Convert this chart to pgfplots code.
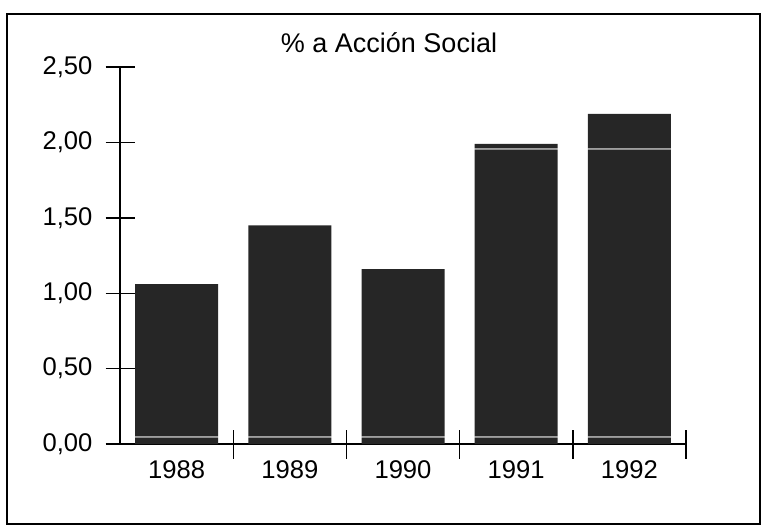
\documentclass[border=0pt]{standalone}
\usepackage{pgfplots}
\pgfplotsset{compat=1.18}
\usepackage{fontspec}
\setmainfont{Liberation Sans}
\definecolor{bardark}{gray}{0.15}
\definecolor{barlight}{gray}{0.62}
\begin{document}
\begin{tikzpicture}
\path (0,0) rectangle (382pt,-265pt);
\draw[line width=1.2pt] (3.5pt,-7pt) rectangle (380pt,-262pt);
\node[anchor=base, inner sep=0pt, font=\fontsize{13.5}{15}\selectfont] at (194.5pt,-26pt) {\% a Acción Social};
\begin{axis}[
  at={(60pt,-222pt)}, anchor=south west,
  scale only axis, width=283pt, height=188.5pt,
  xmin=-0.5, xmax=4.5, ymin=0, ymax=2.5,
  axis lines*=left,
  axis line style={line width=0.7pt, black},
  every tick/.style={line width=0.7pt, black},
  tick align=center, major tick length=14.5pt,
  ytick={0,0.5,1,1.5,2,2.5},
  yticklabel style={anchor=east, xshift=-3pt},
  /pgf/number format/.cd, fixed, fixed zerofill, precision=2, use comma, assume math mode=true,
  /pgfplots/.cd,
  xtick={0.5,1.5,2.5,3.5,4.5},
  xticklabels={},
  extra x ticks={0,1,2,3,4},
  extra x tick labels={1988,1989,1990,1991,1992},
  extra x tick style={major tick length=0pt, xticklabel style={anchor=north, yshift=-5pt}},
  tick label style={font=\fontsize{12.8}{14}\selectfont},
  ybar stacked, bar width=41.5pt,
  every axis plot/.append style={draw=none},
]
\addplot[fill=bardark] coordinates {(0,0.04) (1,0.04) (2,0.04) (3,0.04) (4,0.04)};
\addplot[fill=barlight] coordinates {(0,0.012) (1,0.012) (2,0.012) (3,0.012) (4,0.012)};
\addplot[fill=bardark] coordinates {(0,1.008) (1,1.398) (2,1.108) (3,1.898) (4,1.898)};
\addplot[fill=barlight] coordinates {(0,0) (1,0) (2,0) (3,0.012) (4,0.012)};
\addplot[fill=bardark] coordinates {(0,0) (1,0) (2,0) (3,0.028) (4,0.228)};
\end{axis}
\end{tikzpicture}
\end{document}
